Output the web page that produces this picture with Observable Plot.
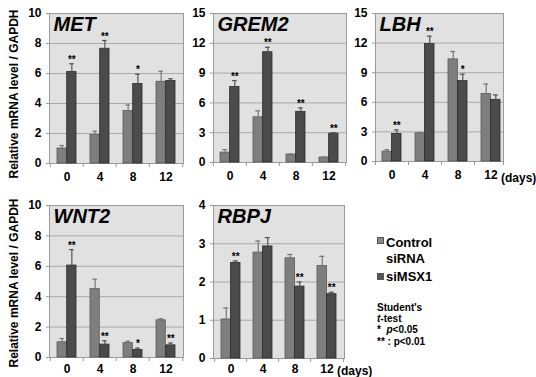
<!DOCTYPE html>
<html>
<head>
<meta charset="utf-8">
<script src="https://cdn.jsdelivr.net/npm/d3@7"></script>
<script src="https://cdn.jsdelivr.net/npm/@observablehq/plot@0.6"></script>
<style>
  html, body { margin: 0; padding: 0; background: #fff; }
  #wrap { position: relative; width: 536px; height: 377px; overflow: hidden;
          font-family: "Liberation Sans", Arial, Helvetica, sans-serif; font-weight: bold; color: #000; }
  .abs { position: absolute; }
  .ylab { position: absolute; font-size: 12px; white-space: nowrap; transform: translate(-50%, -50%) rotate(-90deg); }
  .sq { position: absolute; width: 5px; height: 5px; border: 1px solid #555; }
</style>
</head>
<body>
<div id="wrap"></div>
<script>
const days = ["0", "4", "8", "12"];

// MET
const metCtrl = [1.0, 1.9, 3.5, 5.45];
const metCtrlErr = [0.2, 0.25, 0.4, 0.7];
const metSi = [6.1, 7.65, 5.3, 5.5];
const metSiErr = [0.55, 0.55, 0.65, 0.15];
const metSig = ["**", "**", "*", ""];
const metTicks = [0, 2, 4, 6, 8, 10];

// GREM2
const gremCtrl = [1.0, 4.55, 0.8, 0.5];
const gremCtrlErr = [0.3, 0.65, 0.05, 0.05];
const gremSi = [7.6, 11.1, 5.1, 2.9];
const gremSiErr = [0.65, 0.5, 0.4, 0.1];
const gremSig = ["**", "**", "**", "**"];
const gremTicks = [0, 3, 6, 9, 12, 15];

// LBH
const lbhCtrl = [1.0, 2.85, 10.35, 6.85];
const lbhCtrlErr = [0.2, 0.1, 0.8, 1.0];
const lbhSi = [2.8, 11.9, 8.15, 6.25];
const lbhSiErr = [0.4, 0.8, 0.7, 0.5];
const lbhSig = ["**", "**", "*", ""];
const lbhTicks = [0, 3, 6, 9, 12, 15];

// WNT2
const wntCtrl = [1.0, 4.5, 0.95, 2.45];
const wntCtrlErr = [0.25, 0.65, 0.12, 0.1];
const wntSi = [6.05, 0.85, 0.5, 0.8];
const wntSiErr = [1.05, 0.25, 0.12, 0.15];
const wntSig = ["**", "**", "*", "**"];
const wntTicks = [0, 2, 4, 6, 8, 10];

// RBPJ
const rbpjCtrl = [1.02, 2.77, 2.62, 2.42];
const rbpjCtrlErr = [0.3, 0.3, 0.1, 0.25];
const rbpjSi = [2.5, 2.93, 1.88, 1.68];
const rbpjSiErr = [0.05, 0.23, 0.12, 0.05];
const rbpjSig = ["**", "", "**", "**"];
const rbpjTicks = [0, 1, 2, 3, 4];

const seriesNames = ["Control siRNA", "siMSX1"];
const yTitle = "Relative mRNA level / GAPDH";

const wrap = document.getElementById("wrap");

function rows(vals, errs, sigs, series) {
  return days.map((d, i) => ({day: d, series, value: vals[i], err: errs[i], sig: sigs ? sigs[i] : ""}));
}

function panel({title, ctrl, ctrlErr, si, siErr, sig, ticks, left, top, width, height, mL, mR, mT, mB, fr = 0, xPad = 9}) {
  const plotW = width - mL - mR;
  const step = plotW / days.length;
  const pad = 0.42;
  const bw = step * (1 - pad);
  const c = rows(ctrl, ctrlErr, null, seriesNames[0]);
  const s = rows(si, siErr, sig, seriesNames[1]);
  const cap = 2.5;
  const chart = Plot.plot({
    width, height,
    marginLeft: mL, marginRight: mR, marginTop: mT, marginBottom: mB,
    style: {fontFamily: "'Liberation Sans', Arial, Helvetica, sans-serif", fontSize: "12px", fontWeight: "bold", color: "#000", background: "transparent", overflow: "visible"},
    x: {type: "band", domain: days, paddingInner: pad, paddingOuter: pad / 2, label: null},
    y: {domain: [ticks[0], ticks[ticks.length - 1]], label: null},
    marks: [
      Plot.frame({fill: "#e1e1e1", stroke: null, insetRight: fr}),
      Plot.gridY(ticks, {stroke: "#a9a9a9", strokeOpacity: 1, insetRight: fr}),
      Plot.frame({stroke: "#9a9a9a", insetRight: fr}),
      Plot.barY(c, {x: "day", y: "value", fill: "#7e7e7e", stroke: "#5a5a5a", strokeWidth: 0.8, insetRight: bw / 2}),
      Plot.barY(s, {x: "day", y: "value", fill: "#4b4b4b", stroke: "#2a2a2a", strokeWidth: 0.8, insetLeft: bw / 2}),
      Plot.ruleX(c, {x: "day", y1: "value", y2: d => d.value + d.err, dx: -bw / 4, stroke: "#777", strokeWidth: 1.2}),
      Plot.tickY(c, {x: "day", y: d => d.value + d.err, insetLeft: bw / 4 - cap, insetRight: bw * 3 / 4 - cap, stroke: "#777", strokeWidth: 1.2}),
      Plot.ruleX(s, {x: "day", y1: "value", y2: d => d.value + d.err, dx: bw / 4, stroke: "#555", strokeWidth: 1.2}),
      Plot.tickY(s, {x: "day", y: d => d.value + d.err, insetLeft: bw * 3 / 4 - cap, insetRight: bw / 4 - cap, stroke: "#555", strokeWidth: 1.2}),
      Plot.text(s.filter(d => d.sig), {x: "day", y: d => d.value + d.err, text: "sig", dx: bw / 4, dy: -1, lineAnchor: "bottom", fontSize: 10, fontWeight: "bold", fill: "#000"}),
      Plot.axisY({ticks, tickSize: 3, tickPadding: 5, tickFormat: d => String(d), stroke: "#999", label: null}),
      Plot.axisX({tickSize: 0, tickPadding: xPad, label: null}),
      Plot.axisX({tickSize: 4, tickFormat: () => "", dx: -step / 2, stroke: "#999", label: null}),
      Plot.axisX({ticks: [days[days.length - 1]], tickSize: 4, tickFormat: () => "", dx: step / 2 - fr, stroke: "#999", label: null}),
      Plot.text([title], {frameAnchor: "top-left", dx: 4, dy: 3, fontSize: 20, fontStyle: "italic", fontWeight: "bold", fill: "#000"})
    ]
  });
  chart.style.position = "absolute";
  chart.style.left = left + "px";
  chart.style.top = top + "px";
  wrap.appendChild(chart);
}

panel({title: "MET", ctrl: metCtrl, ctrlErr: metCtrlErr, si: metSi, siErr: metSiErr, sig: metSig, ticks: metTicks,
  left: 0, top: 0, width: 186, height: 190, mL: 49, mR: 3, mT: 13, mB: 27});
panel({title: "GREM2", ctrl: gremCtrl, ctrlErr: gremCtrlErr, si: gremSi, siErr: gremSiErr, sig: gremSig, ticks: gremTicks,
  left: 190, top: 0, width: 160, height: 190, mL: 23, mR: 4, mT: 13, mB: 28});
panel({title: "LBH", ctrl: lbhCtrl, ctrlErr: lbhCtrlErr, si: lbhSi, siErr: lbhSiErr, sig: lbhSig, ticks: lbhTicks,
  left: 350, top: 0, width: 186, height: 190, mL: 25, mR: 29, mT: 13, mB: 29, fr: 4});
panel({title: "WNT2", ctrl: wntCtrl, ctrlErr: wntCtrlErr, si: wntSi, siErr: wntSiErr, sig: wntSig, ticks: wntTicks,
  left: 0, top: 190, width: 186, height: 190, mL: 49, mR: 3, mT: 15, mB: 23, xPad: 7});
panel({title: "RBPJ", ctrl: rbpjCtrl, ctrlErr: rbpjCtrlErr, si: rbpjSi, siErr: rbpjSiErr, sig: rbpjSig, ticks: rbpjTicks,
  left: 190, top: 190, width: 160, height: 190, mL: 23, mR: 6, mT: 15, mB: 22, xPad: 6});

function addText(txt, left, top, size, extra) {
  const el = document.createElement("div");
  el.className = "abs";
  el.style.left = left + "px";
  el.style.top = top + "px";
  el.style.fontSize = size + "px";
  el.style.whiteSpace = "nowrap";
  el.style.lineHeight = "1";
  if (extra) Object.assign(el.style, extra);
  el.innerHTML = txt;
  wrap.appendChild(el);
  return el;
}

// y-axis titles
[94, 283].forEach(cy => {
  const el = document.createElement("div");
  el.className = "ylab";
  el.style.left = "14px";
  el.style.top = cy + "px";
  el.textContent = yTitle;
  wrap.appendChild(el);
});

// (days)
addText("(days)", 501, 172, 12);
addText("(days)", 337, 365, 12);

// legend
function sq(left, top, color) {
  const el = document.createElement("div");
  el.className = "sq";
  el.style.left = left + "px";
  el.style.top = top + "px";
  el.style.background = color;
  wrap.appendChild(el);
}
sq(377, 237, "#8a8a8a");
addText("Control", 386, 236, 13);
addText("siRNA", 386, 252, 13);
sq(377, 273, "#555");
addText("siMSX1", 386, 270, 13);

addText("Student's", 377, 303, 10);
addText("<i>t</i>-test", 377, 314, 10);
addText("*&nbsp; <i>p</i>&lt;0.05", 377, 325, 10);
addText("** : p&lt;0.01", 377, 337, 10);
</script>
</body>
</html>
